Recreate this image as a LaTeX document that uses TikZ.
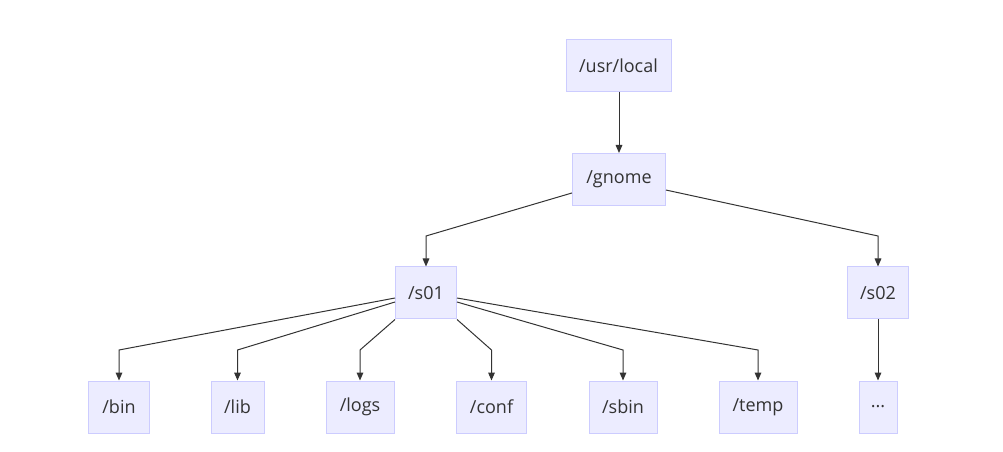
\documentclass[tikz,border=0pt]{standalone}
\usepackage{fontspec}
\setmainfont{Open Sans}
\usetikzlibrary{arrows.meta}
\definecolor{boxfill}{HTML}{ECECFF}
\definecolor{boxline}{HTML}{CCCCFF}
\definecolor{ink}{HTML}{333333}
\tikzset{
  box/.style={draw=boxline, fill=boxfill, line width=0.75pt, minimum height=39pt,
    inner sep=0pt, text=ink, font=\fontsize{13.5pt}{16pt}\selectfont},
  edge/.style={draw=ink, line width=0.75pt, -{Triangle[length=6pt,width=5pt]}},
}
\begin{document}
\begin{tikzpicture}[x=0.75pt,y=-0.75pt]
\useasboundingbox (0,0) rectangle (1003,452);
\node[box, minimum width=78.75pt] (usr) at (618.5,65.5) {/usr/local};
\node[box, minimum width=69.75pt] (gnome) at (619,179.5) {/gnome};
\node[box, minimum width=45.75pt] (s01) at (426,293) {/s01};
\node[box, minimum width=45.75pt] (s02) at (878,293) {/s02};
\node[box, minimum width=45.75pt] (bin) at (119,407) {/bin};
\node[box, minimum width=39.75pt] (lib) at (237.5,407) {/lib};
\node[box, minimum width=51pt] (logs) at (360,407) {/logs};
\node[box, minimum width=52.5pt] (conf) at (491.5,407) {/conf};
\node[box, minimum width=51pt] (sbin) at (623,407) {/sbin};
\node[box, minimum width=58.5pt] (temp) at (758,407) {/temp};
\node[box, minimum width=28.5pt] (dots) at (878,407) {...};
\coordinate (r1) at (0,236);
\coordinate (r2) at (0,350);
\draw[edge] (usr.south -| gnome.north) -- (gnome.north);
\draw[edge] ([yshift=-10.1pt]gnome.west) -- (s01.north |- r1) -- (s01.north);
\draw[edge] ([yshift=-7.9pt]gnome.east) -- (s02.north |- r1) -- (s02.north);
\draw[edge] (s02.south) -- (dots.north);
\draw[edge] ([yshift=-3.75pt]s01.west) -- (bin.north |- r2) -- (bin.north);
\draw[edge] ([yshift=-6.75pt]s01.west) -- (lib.north |- r2) -- (lib.north);
\draw[edge] (s01.south west) -- (logs.north |- r2) -- (logs.north);
\draw[edge] (s01.south east) -- (conf.north |- r2) -- (conf.north);
\draw[edge] ([yshift=-6.75pt]s01.east) -- (sbin.north |- r2) -- (sbin.north);
\draw[edge] ([yshift=-3.75pt]s01.east) -- (temp.north |- r2) -- (temp.north);
\end{tikzpicture}
\end{document}
